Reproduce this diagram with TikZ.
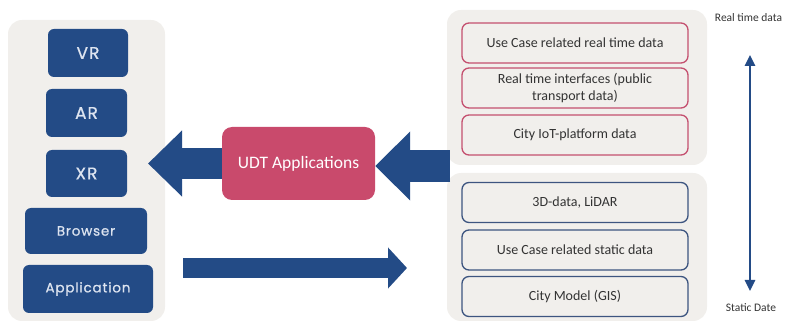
\documentclass[tikz,border=0pt]{standalone}
\usepackage{fontspec}
\setmainfont{Carlito}
\newfontfamily\popfont[LetterSpace=6,FakeBold=0.8]{Poppins}
\usetikzlibrary{arrows.meta}
\definecolor{navy}{HTML}{234B86}
\definecolor{rose}{HTML}{C94A6C}
\definecolor{panelbg}{HTML}{F1EFEC}
\definecolor{txt}{HTML}{333333}
\definecolor{boxblue}{HTML}{3D5580}
\definecolor{boxrose}{HTML}{C4506F}
\definecolor{devtxt}{HTML}{DDE4F0}
\tikzset{
  panel/.style={fill=panelbg, rounded corners=14pt, inner sep=0pt},
  devbox/.style={fill=navy, rounded corners=6pt, inner sep=0pt, text=devtxt, font=\popfont\fontsize{13.5}{15}\selectfont},
  bigdev/.style={devbox, font=\popfont\fontsize{17}{19}\selectfont},
  rtbox/.style={draw=boxrose, line width=1.3pt, fill=panelbg, rounded corners=7pt, inner sep=0pt,
     minimum width=226pt, minimum height=40pt, text=txt, align=center, font=\fontsize{14}{17.5}\selectfont},
  stbox/.style={rtbox, draw=boxblue},
  udtbox/.style={fill=rose, rounded corners=10pt, inner sep=0pt, text=white, font=\fontsize{17.5}{20}\selectfont},
  sidelabel/.style={text=txt, inner sep=0pt, font=\fontsize{11.5}{13}\selectfont}
}
\begin{document}
\begin{tikzpicture}[x=1pt,y=-1pt]
\useasboundingbox (0,0) rectangle (785,323);
% panels
\node[panel, minimum width=157pt, minimum height=301pt] (pl) at (86.5,170.5) {};
\node[panel, minimum width=260pt, minimum height=155pt] (pt) at (577,87.5) {};
\node[panel, minimum width=260pt, minimum height=148pt] (pb) at (577,247) {};
% left devices
\node[bigdev, minimum width=80pt, minimum height=48pt] (vr) at (88,53) {VR};
\node[bigdev, minimum width=81pt, minimum height=48pt] (ar) at (86.5,113) {AR};
\node[bigdev, minimum width=81pt, minimum height=47pt] (xr) at (86.5,173.5) {XR};
\node[devbox, minimum width=122pt, minimum height=46pt] (br) at (86,231) {Browser};
\node[devbox, minimum width=130pt, minimum height=48pt] (ap) at (88,289) {Application};
% UDT
\node[udtbox, minimum width=153pt, minimum height=73pt] (udt) at (298.5,163.5) {UDT Applications};
% real time boxes
\node[rtbox] (r1) at (575,43) {Use Case related real time data};
\node[rtbox] (r2) at (575,88) {Real time interfaces (public\\transport data)};
\node[rtbox] (r3) at (575,135) {City IoT-platform data};
% static boxes
\node[stbox] (s1) at (575,202.5) {3D-data, LiDAR};
\node[stbox] (s2) at (575,250) {Use Case related static data};
\node[stbox] (s3) at (575,296.5) {City Model (GIS)};
% side labels
\node[sidelabel] (lrt) at (748.5,18) {Real time data};
\node[sidelabel] (lst) at (751,308) {Static Date};
% arrows
\coordinate (tipL) at (148,163.5);
\coordinate (srcR) at (450,166);
\coordinate (srcB) at (183,268);
\coordinate (tipB) at (407,268);
\coordinate (vtop) at (750,55);
\coordinate (vbot) at (750,291);
\draw[navy, line width=31pt, -{Triangle[length=34pt,width=64pt]}] (udt.west) -- (tipL);
\draw[navy, line width=32pt, -{Triangle[length=35pt,width=67pt]}] (srcR) -- (udt.east |- srcR);
\draw[navy, line width=20pt, -{Triangle[length=19pt,width=40pt]}] (srcB) -- (tipB);
\draw[navy, line width=2.5pt, {Triangle[length=11pt,width=10pt]}-{Triangle[length=11pt,width=10pt]}] (vtop) -- (vbot);
\end{tikzpicture}
\end{document}
